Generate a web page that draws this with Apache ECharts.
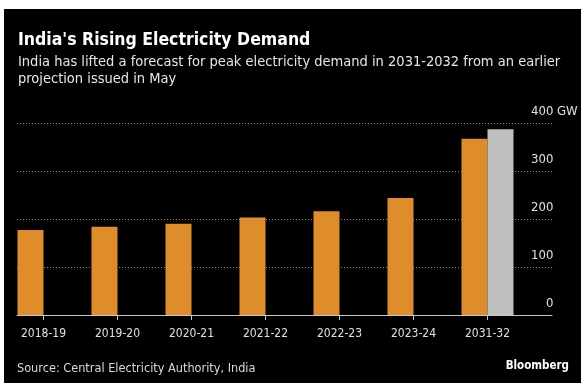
<!DOCTYPE html>
<html>
<head>
<meta charset="utf-8">
<script src="https://cdn.jsdelivr.net/npm/echarts@6/dist/echarts.min.js"></script>
<style>
    html, body { margin: 0; padding: 0; background: #fff; }
    #chart { width: 581px; height: 383px; }
</style>
</head>
<body>
<div id="chart"></div>
<script>
    // peak demand, GW
    var years = ['2018-19', '2019-20', '2020-21', '2021-22', '2022-23', '2023-24', '2031-32'];
    var demand = [177, 184, 190, 203, 216, 244, 367];
    var revised = [null, null, null, null, null, null, 387];
    var yTicks = [0, 100, 200, 300, 400];

    var font = '"Liberation Sans Narrow", "DejaVu Sans Condensed", sans-serif';
    var chart = echarts.init(document.getElementById('chart'));

    chart.setOption({
        backgroundColor: '#000',
        animation: false,
        graphic: [
            // white edge of the scan
            {type: 'rect', left: 0, top: 0, shape: {width: 581, height: 9}, style: {fill: '#fff'}},
            {type: 'rect', left: 0, top: 0, shape: {width: 4, height: 383}, style: {fill: '#fff'}}
        ],
        title: [
            {
                text: "India's Rising Electricity Demand",
                left: 18, top: 31, padding: 0,
                textStyle: {color: '#fff', fontSize: 17.5, fontWeight: 'bold', fontFamily: font}
            },
            {
                text: 'India has lifted a forecast for peak electricity demand in 2031-2032 from an earlier\nprojection issued in May',
                left: 18, top: 54, padding: 0,
                textStyle: {color: '#e6e6e6', fontSize: 14.5, fontWeight: 'normal', fontFamily: font, lineHeight: 16.5}
            },
            {
                text: 'Source: Central Electricity Authority, India',
                left: 17, top: 362, padding: 0,
                textStyle: {color: '#d8d8d8', fontSize: 12.6, fontWeight: 'normal', fontFamily: font}
            },
            {
                text: 'Bloomberg',
                right: 12, top: 360, padding: 0,
                textStyle: {color: '#fff', fontSize: 11.5, fontWeight: 'bold', fontFamily: font}
            }
        ],
        grid: [
            {left: 17, right: 29, top: 123, bottom: 68, outerBoundsMode: 'none'},
            {left: 6.5, right: 56.5, top: 123, bottom: 68, outerBoundsMode: 'none'}
        ],
        xAxis: [
            {
                gridIndex: 0, type: 'value', min: 0, max: 1,
                axisLine: {show: true, onZero: false, lineStyle: {color: '#c8c8c8', width: 1}},
                axisTick: {show: false}, axisLabel: {show: false}, splitLine: {show: false}
            },
            {
                gridIndex: 1, type: 'category', data: years,
                axisLine: {show: false},
                axisTick: {show: true, alignWithLabel: true, length: 5, lineStyle: {color: '#c8c8c8'}},
                axisLabel: {color: '#e0e0e0', fontSize: 12, fontFamily: font, margin: 13}
            }
        ],
        yAxis: [
            {
                gridIndex: 0, type: 'value', position: 'right',
                min: 0, max: 400, interval: 100,
                axisLine: {show: false}, axisTick: {show: false},
                splitLine: {show: true, lineStyle: {color: '#8a8a8a', type: [1, 2], width: 1}},
                axisLabel: {
                    inside: true, align: 'left', margin: 21,
                    verticalAlign: 'bottom', padding: [0, 0, 5, 0],
                    color: '#e0e0e0', fontSize: 13, fontFamily: font,
                    formatter: function (v) {
                        if (v === 0) return '{z|0}';
                        if (v === yTicks[yTicks.length - 1]) return v + ' GW';
                        return String(v);
                    },
                    rich: {
                        z: {padding: [0, 0, 0, 15], color: '#e0e0e0', fontSize: 13, fontFamily: font}
                    }
                }
            },
            {
                gridIndex: 1, type: 'value', min: 0, max: 400, show: false
            }
        ],
        series: [
            {
                name: 'Peak demand', type: 'bar', xAxisIndex: 1, yAxisIndex: 1,
                data: demand, barWidth: 26, barGap: 0,
                itemStyle: {color: '#df8d2a'}
            },
            {
                name: 'Revised', type: 'bar', xAxisIndex: 1, yAxisIndex: 1,
                data: revised, barWidth: 26, barGap: 0,
                itemStyle: {color: '#bfbfbf'}
            }
        ]
    });
</script>
</body>
</html>
